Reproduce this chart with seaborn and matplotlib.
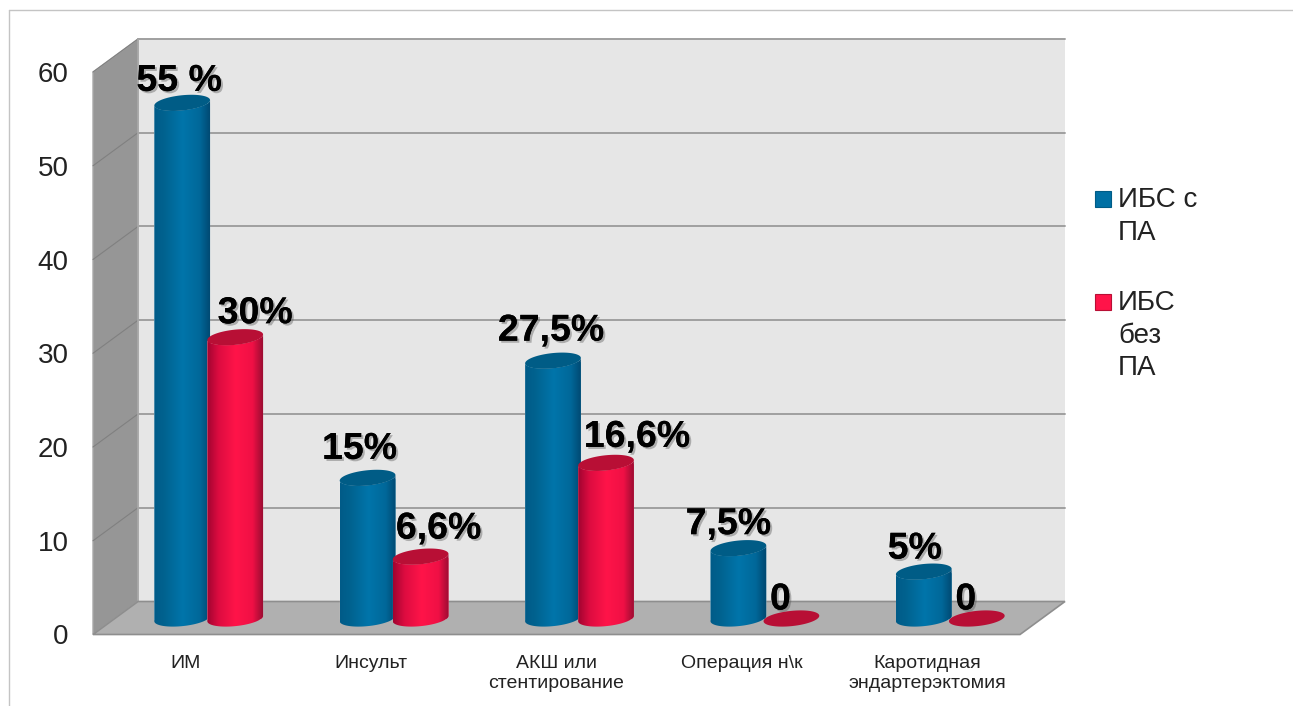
import numpy as np
import pandas as pd
import matplotlib
matplotlib.use("Agg")
import matplotlib.pyplot as plt
import seaborn as sns
from matplotlib.colors import LinearSegmentedColormap
from matplotlib.lines import Line2D
from matplotlib.patches import Polygon, Rectangle
import matplotlib.patheffects as pe

categories = ["ИМ", "Инсульт", "АКШ или\nстентирование", "Операция н\\к",
              "Каротидная\nэндартерэктомия"]
series_names = ["ИБС с ПА", "ИБС без ПА"]
with_pa = [55, 15, 27.5, 7.5, 5]
without_pa = [30, 6.6, 16.6, 0, 0]
with_pa_labels = ["55 %", "15%", "27,5%", "7,5%", "5%"]
without_pa_labels = ["30%", "6,6%", "16,6%", "0", "0"]
y_ticks = [0, 10, 20, 30, 40, 50, 60]
legend_labels = ["ИБС с\nПА", "ИБС\nбез\nПА"]

# label offsets in pixels from the top of each cylinder (style only)
blue_off = [(-3, 22), (-8, 29), (-2, 30), (-10, 24), (-9, 23)]
red_off = [(20, 24), (18, 28), (31, 26), (-11, 19), (-11, 19)]

W, H = 1293, 706
sns.set_theme(style="white")
plt.rcParams["font.family"] = ["Liberation Sans", "DejaVu Sans"]

fig = plt.figure(figsize=(W / 100, H / 100), dpi=100, facecolor="white")
L, R, B, T = 93, 1020, 634.5, 72
ax = fig.add_axes([L / W, 1 - B / H, (R - L) / W, (B - T) / H])
ax.patch.set_visible(False)

df = pd.DataFrame({
    "cat": categories * 2,
    "series": [series_names[0]] * 5 + [series_names[1]] * 5,
    "value": with_pa + without_pa,
})
BLUE, RED = "#0070a4", "#ff1449"
sns.barplot(data=df, x="cat", y="value", hue="series", hue_order=series_names,
            palette=[BLUE, RED], width=0.572, ax=ax, legend=False,
            saturation=1, zorder=3)

ax.set_xlim(-0.5, 4.5)
ax.set_ylim(0, 60)
px_x = (R - L) / 5           # pixels per category
px_y = (B - T) / 60          # pixels per unit


def rx(p):
    return p / px_x


def ry(p):
    return p / px_y


# walls ------------------------------------------------------------------
wdx, wdy = rx(45), ry(33)
ax.add_patch(Polygon([(-0.5 + wdx, wdy), (4.5 + wdx, wdy), (4.5 + wdx, 60 + wdy), (-0.5 + wdx, 60 + wdy)],
                     closed=True, fc="#e6e6e6", ec="none", zorder=0, clip_on=False))
ax.add_patch(Polygon([(-0.5, 0), (-0.5 + wdx, wdy), (-0.5 + wdx, 60 + wdy), (-0.5, 60)],
                     closed=True, fc="#969696", ec="#a8a8a8", lw=1, zorder=0.5, clip_on=False))
ax.add_patch(Polygon([(-0.5, 0), (4.5, 0), (4.5 + wdx, wdy), (-0.5 + wdx, wdy)],
                     closed=True, fc="#b0b0b0", ec="#8e8e8e", lw=1.2, zorder=1, clip_on=False))
for v in y_ticks[1:]:
    ax.plot([-0.5 + wdx, 4.5 + wdx], [v + wdy, v + wdy], color="#a0a0a0", lw=1.4,
            zorder=0.4, clip_on=False)
    ax.plot([-0.5, -0.5 + wdx], [v, v + wdy], color="#808080", lw=0.8,
            zorder=0.6, clip_on=False)
ax.plot([-0.5 + wdx] * 2, [wdy, 60 + wdy], color="#a8a8a8", lw=1.2, zorder=0.6, clip_on=False)

# cylinders --------------------------------------------------------------
cmap_blue = LinearSegmentedColormap.from_list(
    "b", [(0, "#005b88"), (0.18, "#00628f"), (0.5, "#0075aa"), (0.8, "#00689a"), (1, "#00476f")])
cmap_red = LinearSegmentedColormap.from_list(
    "r", [(0, "#a00430"), (0.2, "#dc0c40"), (0.5, "#ff1449"), (0.8, "#f01045"), (1, "#940c30")])
grad = np.linspace(0, 1, 256).reshape(1, -1)
cdx, cdy = rx(23), ry(16)
grow = 56 / 53
tilt = np.deg2rad(6)
ell_h = 7.6


def ellipse(cx, cy, half_w, t):
    # tilted ellipse outline, evaluated in pixel space and returned in data units
    ex = half_w * px_x * np.cos(t)
    ey = ell_h * np.sin(t)
    return np.column_stack([cx + rx(ex * np.cos(tilt) - ey * np.sin(tilt)),
                            cy + ry(ex * np.sin(tilt) + ey * np.cos(tilt))])


bars = [p for p in ax.patches if isinstance(p, Rectangle)]
bars = sorted(bars, key=lambda p: p.get_x())
order = 3.0
full = np.linspace(0, 2 * np.pi, 100)
lower = np.linspace(np.pi, 2 * np.pi, 50)
upper_back = np.linspace(0, -np.pi, 50)
for bar in bars:
    is_blue = matplotlib.colors.to_hex(bar.get_facecolor()) == BLUE
    cx = bar.get_x() + bar.get_width() / 2 + cdx
    half = bar.get_width() / 2 * grow
    h = bar.get_height()
    base, top = cdy, cdy + h
    order += 0.1
    bar.set_x(cx - half)
    bar.set_width(half * 2)
    bar.set_y(base)
    bar.set_zorder(order)
    if h > 0:
        body = np.vstack([ellipse(cx, base, half, lower), ellipse(cx, top, half, upper_back)])
        clip = Polygon(body, closed=True, transform=ax.transData)
        bar.set_clip_path(clip)
        im = ax.imshow(grad, cmap=cmap_blue if is_blue else cmap_red, aspect="auto",
                       extent=[cx - half, cx + half, base - ry(10), top + ry(10)],
                       zorder=order + 0.01)
        im.set_clip_path(clip)
    else:
        bar.set_visible(False)
    order += 0.1
    ax.add_patch(Polygon(ellipse(cx, top, half, full), closed=True,
                         fc="#005c86" if is_blue else "#b80f35", ec="none",
                         zorder=order, clip_on=False))

ax.set_xlim(-0.5, 4.5)
ax.set_ylim(0, 60)

# value labels -----------------------------------------------------------
blue_bars = sorted([b for b in bars if matplotlib.colors.to_hex(b.get_facecolor()) == BLUE], key=lambda p: p.get_x())
red_bars = sorted([b for b in bars if matplotlib.colors.to_hex(b.get_facecolor()) == RED], key=lambda p: p.get_x())
shadow = [pe.withSimplePatchShadow(offset=(1.5, -1.5), shadow_rgbFace="#555555", alpha=0.4), pe.Normal()]
for group, texts, offs in [
    (blue_bars, with_pa_labels, blue_off),
    (red_bars, without_pa_labels, red_off),
]:
    for b, s, off in zip(group, texts, offs):
        ax.annotate(s, xy=(b.get_x() + b.get_width() / 2, b.get_y() + b.get_height()),
                    xytext=off, textcoords="offset pixels", ha="center", va="center",
                    fontsize=27, fontweight="bold", color="black", zorder=10,
                    annotation_clip=False, path_effects=shadow)

# axes -------------------------------------------------------------------
sns.despine(ax=ax, left=True, bottom=True)
ax.set_xlabel("")
ax.set_ylabel("")
ax.set_yticks(y_ticks)
ax.set_yticklabels([str(v) for v in y_ticks], fontsize=20, color="#222222")
ax.set_xticks(range(5))
ax.set_xticklabels(categories, fontsize=14, color="#222222", linespacing=1.24)
ax.tick_params(axis="both", length=0)
ax.tick_params(axis="y", pad=17.5)
ax.tick_params(axis="x", pad=14.5)

# legend -----------------------------------------------------------------
for (yy, colr, edge, txt) in zip([199, 302], [BLUE, RED], ["#005c86", "#b80f35"], legend_labels):
    fig.add_artist(Rectangle((1095 / W, 1 - (yy + 8) / H), 16 / W, 16 / H, fc=colr, ec=edge,
                             lw=0.8, transform=fig.transFigure))
    fig.text(1118 / W, 1 - (yy - 12) / H, txt, fontsize=20, color="#222222", va="top",
             ha="left", linespacing=1.33)

# outer frame ------------------------------------------------------------
for xs, ys in [([9, W], [10, 10]), ([9, 9], [10, H])]:
    fig.add_artist(Line2D([x / W for x in xs], [1 - y / H for y in ys], color="#c4c4c4", lw=1))

fig.savefig("out.png", dpi=100, facecolor="white")
